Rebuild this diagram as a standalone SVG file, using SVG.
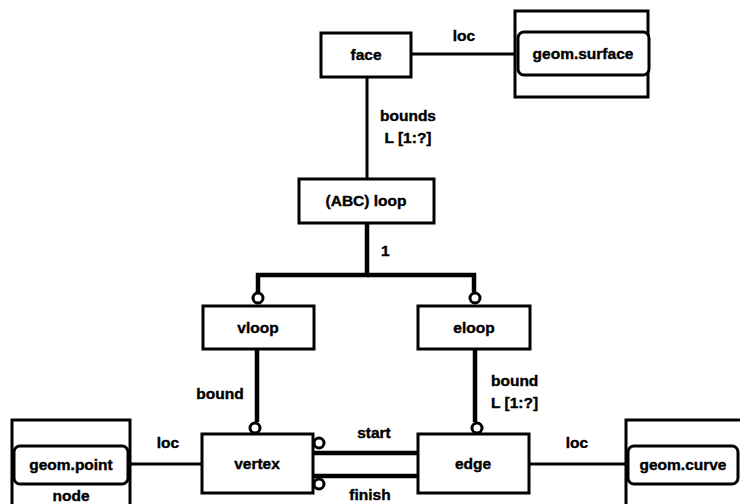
<svg xmlns="http://www.w3.org/2000/svg" width="740" height="504" viewBox="0 0 740 504">
<style>
.box{fill:#fff;stroke:#000;stroke-width:3}
.t{font-family:"Liberation Sans",Arial,sans-serif;font-weight:bold;font-size:15.5px;fill:#000;stroke:#000;stroke-width:0.4}
.c{text-anchor:middle}
.ln{fill:none;stroke:#000;stroke-width:3}
.tk{fill:none;stroke:#000;stroke-width:4.5}
.ci{fill:#fff;stroke:#000;stroke-width:3}
</style>
<rect width="740" height="504" fill="#fff"/>
<g id="connectors">
<line class="ln" x1="411" y1="54" x2="516" y2="54"/>
<line class="ln" x1="367" y1="77" x2="367" y2="179"/>
<polyline class="tk" points="367,223 367,275 258,275 258,292"/>
<polyline class="tk" points="367,275 474,275 474,292"/>
<line class="tk" x1="257" y1="349" x2="257" y2="422"/>
<line class="tk" x1="475" y1="349" x2="475" y2="422"/>
<line class="ln" x1="131" y1="464" x2="202" y2="464"/>
<line class="ln" x1="529" y1="464" x2="626" y2="464"/>
<line class="tk" x1="313" y1="453" x2="418" y2="453"/>
<line class="tk" x1="313" y1="476" x2="418" y2="476"/>
<circle class="ci" cx="258" cy="298" r="5"/>
<circle class="ci" cx="475" cy="298" r="5"/>
<circle class="ci" cx="255" cy="428" r="5"/>
<circle class="ci" cx="477" cy="428" r="5"/>
<circle class="ci" cx="319" cy="443" r="5"/>
<circle class="ci" cx="319" cy="484" r="5"/>
<text class="t c" x="464" y="41">loc</text>
<text class="t c" x="408" y="121">bounds</text>
<text class="t c" x="408" y="143">L [1:?]</text>
<text class="t" x="381" y="256">1</text>
<text class="t c" x="220" y="399">bound</text>
<text class="t" x="491" y="386">bound</text>
<text class="t" x="491" y="408">L [1:?]</text>
<text class="t c" x="168" y="448">loc</text>
<text class="t c" x="577" y="448">loc</text>
<text class="t c" x="374" y="438">start</text>
<text class="t c" x="370" y="500">finish</text>
</g>
<g id="face"><rect class="box" x="321" y="33" width="90" height="44"/><text class="t c" x="366" y="60">face</text></g>
<g id="geom_surface">
<rect class="box" x="515" y="11" width="133" height="86"/>
<rect class="box" x="518" y="32" width="131" height="43" rx="6"/>
<text class="t c" x="583" y="59">geom.surface</text>
</g>
<g id="loop"><rect class="box" x="299" y="179" width="135" height="44"/><text class="t c" x="366" y="206">(ABC) loop</text></g>
<g id="vloop"><rect class="box" x="203" y="306" width="111" height="43"/><text class="t c" x="258" y="333">vloop</text></g>
<g id="eloop"><rect class="box" x="418" y="306" width="112" height="43"/><text class="t c" x="474" y="333">eloop</text></g>
<g id="vertex"><rect class="box" x="202" y="434" width="111" height="59"/><text class="t c" x="257" y="469">vertex</text></g>
<g id="edge"><rect class="box" x="418" y="434" width="111" height="59"/><text class="t c" x="473" y="469">edge</text></g>
<g id="geom_point">
<rect class="box" x="12" y="420" width="118" height="90"/>
<rect class="box" x="14" y="446" width="114" height="38" rx="6"/>
<text class="t c" x="71" y="470">geom.point</text>
<text class="t c" x="71" y="501">node</text>
</g>
<g id="geom_curve">
<rect class="box" x="626" y="420" width="120" height="90"/>
<rect class="box" x="628" y="446" width="110" height="38" rx="6"/>
<text class="t c" x="683" y="470">geom.curve</text>
</g>
</svg>
